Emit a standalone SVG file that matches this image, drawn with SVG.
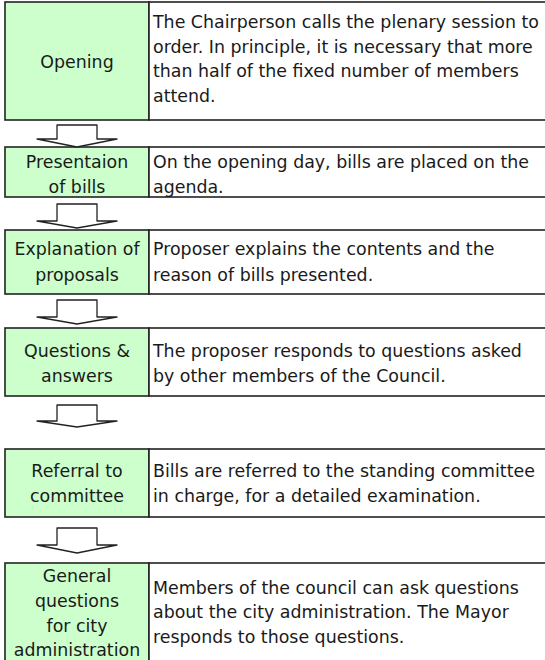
<svg xmlns="http://www.w3.org/2000/svg" width="545" height="660" viewBox="0 0 545 660">
<style>
.bg{fill:#ffffff}
.lbl{fill:#ccffcc;stroke:#222;stroke-width:1.6}
.desc{fill:#ffffff;stroke:#222;stroke-width:1.6}
text{font-family:"DejaVu Sans","Verdana",sans-serif;font-size:17.4px;fill:#1a1a1a}
.c{text-anchor:middle}
.arr{fill:#ffffff;stroke:#222;stroke-width:1.3;stroke-linejoin:round}
</style>
<rect class="bg" x="0" y="0" width="545" height="660"/>
<g id="opening">
<rect class="lbl" x="5" y="2" width="144" height="118"/>
<rect class="desc" x="149" y="2" width="400" height="118"/>
<text class="c" x="77" y="68">Opening</text>
<text x="153" y="28">The Chairperson calls the plenary session to</text>
<text x="153" y="53">order. In principle, it is necessary that more</text>
<text x="153" y="77">than half of the fixed number of members</text>
<text x="153" y="102">attend.</text>
</g>
<g id="presentation">
<rect class="lbl" x="5" y="147" width="144" height="50"/>
<rect class="desc" x="149" y="147" width="400" height="50"/>
<text class="c" x="77" y="168">Presentaion</text>
<text class="c" x="77" y="193">of bills</text>
<text x="153" y="168">On the opening day, bills are placed on the</text>
<text x="153" y="193">agenda.</text>
</g>
<g id="explanation">
<rect class="lbl" x="5" y="230" width="144" height="64"/>
<rect class="desc" x="149" y="230" width="400" height="64"/>
<text class="c" x="77" y="255">Explanation of</text>
<text class="c" x="77" y="281">proposals</text>
<text x="153" y="255">Proposer explains the contents and the</text>
<text x="153" y="281">reason of bills presented.</text>
</g>
<g id="questions">
<rect class="lbl" x="5" y="328" width="144" height="68"/>
<rect class="desc" x="149" y="328" width="400" height="68"/>
<text class="c" x="77" y="357">Questions &amp;</text>
<text class="c" x="77" y="382">answers</text>
<text x="153" y="357">The proposer responds to questions asked</text>
<text x="153" y="382">by other members of the Council.</text>
</g>
<g id="referral">
<rect class="lbl" x="5" y="449" width="144" height="68"/>
<rect class="desc" x="149" y="449" width="400" height="68"/>
<text class="c" x="77" y="477">Referral to</text>
<text class="c" x="77" y="502">committee</text>
<text x="153" y="477">Bills are referred to the standing committee</text>
<text x="153" y="502">in charge, for a detailed examination.</text>
</g>
<g id="general">
<rect class="lbl" x="5" y="563" width="144" height="110"/>
<rect class="desc" x="149" y="563" width="400" height="110"/>
<text class="c" x="77" y="582">General</text>
<text class="c" x="77" y="607">questions</text>
<text class="c" x="77" y="632">for city</text>
<text class="c" x="77" y="656">administration</text>
<text x="153" y="594">Members of the council can ask questions</text>
<text x="153" y="618">about the city administration. The Mayor</text>
<text x="153" y="643">responds to those questions.</text>
</g>
<g id="connectors">
<path class="arr" d="M57,125 H97 V139 H117 L77,147 L37,139 H57 Z"/>
<path class="arr" d="M57,204 H97 V221 H117 L77,228 L37,221 H57 Z"/>
<path class="arr" d="M57,300 H97 V317 H117 L77,324 L37,317 H57 Z"/>
<path class="arr" d="M57,405 H97 V421 H117 L77,427 L37,421 H57 Z"/>
<path class="arr" d="M57,528 H97 V545 H117 L77,553 L37,545 H57 Z"/>
</g>
</svg>
